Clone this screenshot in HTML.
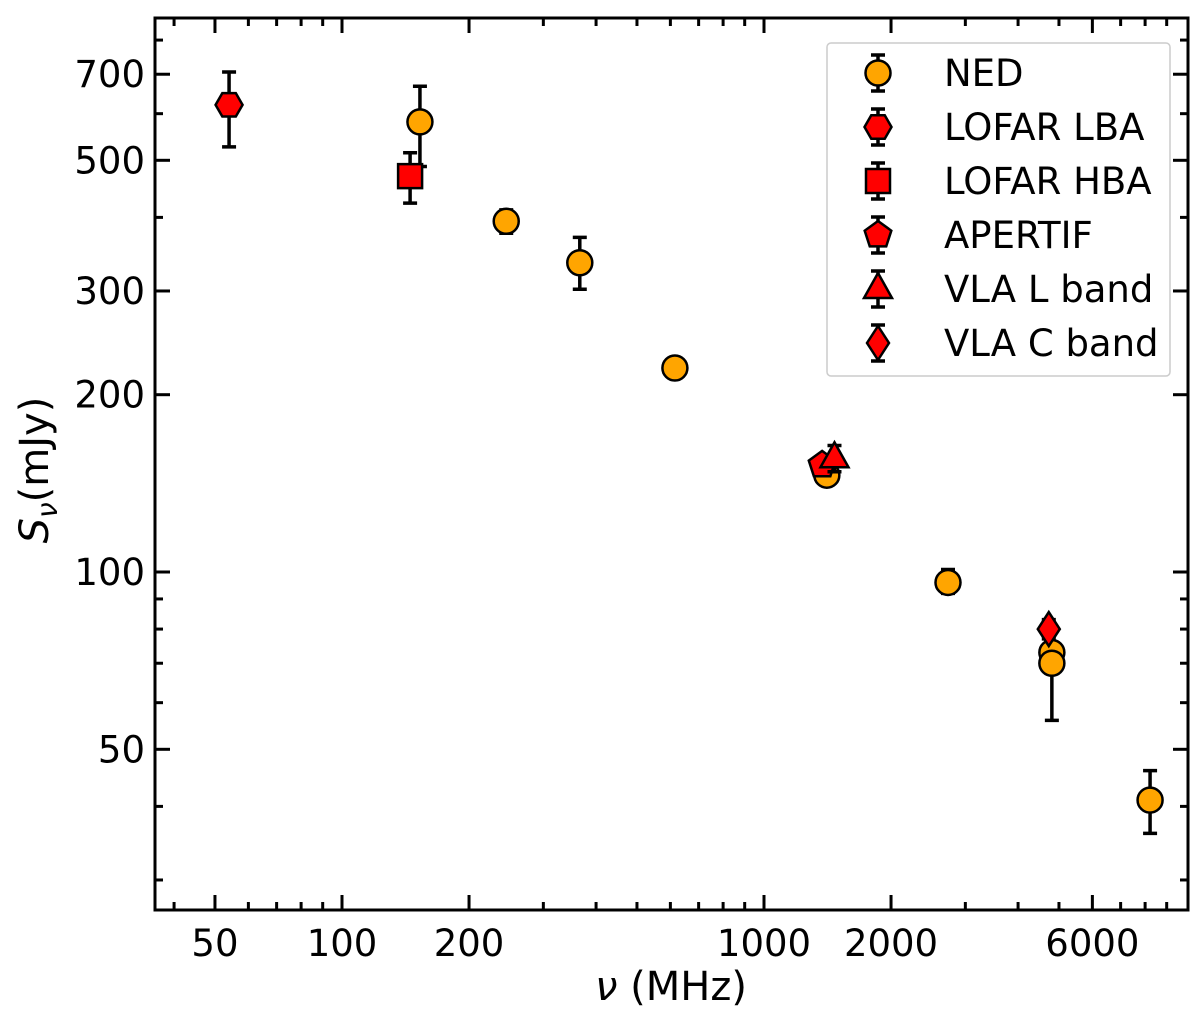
<!DOCTYPE html>
<html><head><meta charset="utf-8"><style>
body{margin:0;background:#fff;}
svg{display:block;font-family:"DejaVu Sans","Liberation Sans",sans-serif;}
</style></head><body>
<svg id="chart" width="1200" height="1013"></svg>
<script>
const nedFreq=[153,245,366,615,1409,2729,4810,4810,8220];
const nedFlux=[581,394,335,222,146,96,73,70,41];
const nedErrLo=[93,18,33,6,4,4,3,14,5];
const nedErrHi=[87,18,35,6,4,5,3,3,5];
const lbaFreq=[54],lbaFlux=[621],lbaErrLo=[94],lbaErrHi=[85];
const hbaFreq=[145],hbaFlux=[470],hbaErrLo=[47],hbaErrHi=[45];
const apFreq=[1373],apFlux=[152],apErrLo=[5],apErrHi=[5];
const vlaLFreq=[1469],vlaLFlux=[156],vlaLErrLo=[8],vlaLErrHi=[8];
const vlaCFreq=[4730],vlaCFlux=[80],vlaCErrLo=[3],vlaCErrHi=[3];
const xTickLabels=[50,100,200,1000,2000,6000];
const xMinor=[40,60,70,80,90,300,400,500,600,700,800,900,3000,4000,5000,7000,8000,9000];
const yTickLabels=[50,100,200,300,500,700];
const yMinor=[30,40,60,70,80,90,400,600,800];
const legendNames=["NED","LOFAR LBA","LOFAR HBA","APERTIF","VLA L band","VLA C band"];

const L=155,R=1188,T=18,B=910;
const X=v=>342+422*(Math.log10(v)-2);
const Y=v=>572-589*(Math.log10(v)-2);
const svg=document.getElementById('chart');
const NS='http://www.w3.org/2000/svg';
function mk(t,a,p){const e=document.createElementNS(NS,t);for(const k in a)e.setAttribute(k,a[k]);(p||svg).appendChild(e);return e;}

[...xTickLabels.map(v=>[v,15]),...xMinor.map(v=>[v,8])].forEach(([v,len])=>{
  const x=X(v);
  const t1=mk('line',{x1:x,x2:x,y1:B,y2:B-len,stroke:'#000','stroke-width':3});
  
  
  const t2=mk('line',{x1:x,x2:x,y1:T,y2:T+len,stroke:'#000','stroke-width':3});
  
  
});
xTickLabels.forEach(v=>{
  const t=mk('text',{x:X(v),y:956,'font-size':37,'text-anchor':'middle'});t.textContent=v;
  
  
});
[...yTickLabels.map(v=>[v,15]),...yMinor.map(v=>[v,8])].forEach(([v,len])=>{
  const y=Y(v);
  const t1=mk('line',{x1:L,x2:L+len,y1:y,y2:y,stroke:'#000','stroke-width':3});
  
  
  const t2=mk('line',{x1:R,x2:R-len,y1:y,y2:y,stroke:'#000','stroke-width':3});
  
  
});
yTickLabels.forEach(v=>{
  const t=mk('text',{x:145,y:Y(v)+13,'font-size':37,'text-anchor':'end'});t.textContent=v;
  
  
});
const fr=mk('rect',{x:L,y:T,width:R-L,height:B-T,fill:'none',stroke:'#000','stroke-width':3});



const xt=mk('text',{x:671,y:1000,'font-size':40,'text-anchor':'middle'});
xt.innerHTML='<tspan font-style="italic">ν</tspan> (MHz)';


const yt=mk('text',{transform:'translate(48,470) rotate(-90)','font-size':40,'text-anchor':'middle'});
yt.innerHTML='<tspan font-style="italic">S</tspan><tspan font-size="28" dy="9" font-style="italic">ν</tspan><tspan dy="-9">(mJy)</tspan>';



function marker(shape,cx,cy,fill,parent){
  const a={fill:fill,stroke:'#000','stroke-width':2.5};
  const r=12.5;let e;
  if(shape==='circle'){e=mk('circle',Object.assign({cx:cx,cy:cy,r:r},a),parent);}
  else if(shape==='square'){e=mk('rect',Object.assign({x:cx-12,y:cy-12,width:24,height:24},a),parent);}
  else{
    let pts=[];
    if(shape==='hex'){for(let i=0;i<6;i++){const an=Math.PI/6+i*Math.PI/3;pts.push([cx+13.5*Math.sin(an),cy-13.5*Math.cos(an)]);}}
    if(shape==='pent'){for(let i=0;i<5;i++){const an=i*2*Math.PI/5;pts.push([cx+14*Math.sin(an),cy-14*Math.cos(an)]);}}
    if(shape==='tri'){pts=[[cx,cy-16],[cx+14,cy+9],[cx-14,cy+9]];}
    if(shape==='dia'){pts=[[cx,cy-17],[cx+11,cy],[cx,cy+17],[cx-11,cy]];}
    e=mk('polygon',Object.assign({points:pts.map(p=>p.join(',')).join(' ')},a),parent);
  }
  return e;
}
function series(name,fx,fy,lo,hi,shape,fill){
  const g=mk('g',{});
  
  
  fx.forEach((f,i)=>{
    const x=X(f),y1=Y(fy[i]+hi[i]),y2=Y(fy[i]-lo[i]);
    const e=mk('path',{d:`M${x},${y1}V${y2}M${x-7},${y1}H${x+7}M${x-7},${y2}H${x+7}`,stroke:'#000','stroke-width':3.5,fill:'none'},g);
    
    
  });
  fx.forEach((f,i)=>{
    const m=marker(shape,X(f),Y(fy[i]),fill,g);
    
    
  });
}
series('ned',nedFreq,nedFlux,nedErrLo,nedErrHi,'circle','#ffa500');
series('lofar-lba',lbaFreq,lbaFlux,lbaErrLo,lbaErrHi,'hex','#ff0000');
series('lofar-hba',hbaFreq,hbaFlux,hbaErrLo,hbaErrHi,'square','#ff0000');
series('apertif',apFreq,apFlux,apErrLo,apErrHi,'pent','#ff0000');
series('vla-l',vlaLFreq,vlaLFlux,vlaLErrLo,vlaLErrHi,'tri','#ff0000');
series('vla-c',vlaCFreq,vlaCFlux,vlaCErrLo,vlaCErrHi,'dia','#ff0000');

const lg=mk('g',{});


const lb=mk('rect',{x:827,y:43,width:343,height:333,rx:4,fill:'#fff',stroke:'#ccc','stroke-width':1.5},lg);


const shapes=['circle','hex','square','pent','tri','dia'];
const fills=['#ffa500','#ff0000','#ff0000','#ff0000','#ff0000','#ff0000'];
legendNames.forEach((n,i)=>{
  const y=73+i*54,x=878;
  const eg=mk('g',{},lg);
  
  
  mk('path',{d:`M${x},${y-18}V${y+18}M${x-7},${y-18}H${x+7}M${x-7},${y+18}H${x+7}`,stroke:'#000','stroke-width':3.5},eg);
  marker(shapes[i],x,y,fills[i],eg);
  const t=mk('text',{x:944,y:y+13,'font-size':37},eg);t.textContent=n;
  
  
});
</script>
</body></html>
